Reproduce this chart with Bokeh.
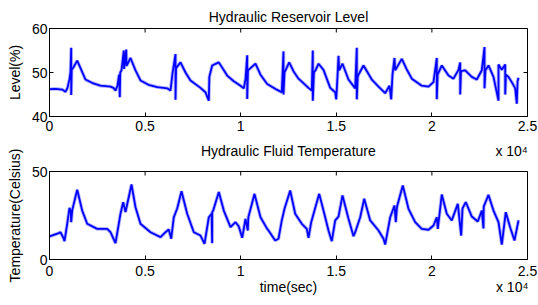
import math
from bokeh.plotting import figure
from bokeh.layouts import column
from bokeh.models import FixedTicker, LinearAxis, Range1d
from bokeh.embed import file_html
from bokeh.resources import INLINE

# ---- data (time in seconds) ----
level_t = [0, 314, 680, 837, 941, 1046, 1098, 1135, 1135, 1160, 1255, 1449, 1621, 1883, 2249, 2667,
           3190, 3347, 3452, 3556, 3640, 3677, 3700, 3766, 3886, 3900, 4011, 4030, 4236, 4498, 4759,
           5178, 5633, 6156, 6328, 6433, 6590, 6590, 6620, 6851, 7113, 7374, 7897, 8159, 8332, 8360,
           8509, 8855, 9294, 9639, 9989, 10162, 10251, 10340, 10340, 10380, 10512, 10774, 11035,
           11386, 11887, 12149, 12238, 12238, 12290, 12343, 12536, 12761, 13023, 13546, 13719,
           13771, 13771, 13830, 13912, 14069, 14330, 14681, 14942, 14995, 15062, 15115, 15150,
           15324, 15638, 15988, 16072, 16072, 16120, 16161, 16422, 16856, 17207, 17557, 17782,
           17871, 17939, 18044, 18080, 18148, 18425, 18671, 18948, 19471, 19822, 20083, 20256,
           20256, 20300, 20517, 20868, 21129, 21391, 21480, 21480, 21520, 21741, 22086, 22348,
           22610, 22751, 22751, 22800, 22960, 23221, 23483, 23483, 23656, 23834, 23834, 23870,
           24006, 24179, 24357, 24440, 24480, 24529]
level_v = [46.2, 46.3, 46.1, 45.6, 46.5, 48.5, 50.1, 55.6, 44.9, 50.6, 51.2, 52.7, 51.0, 48.4, 47.6, 47.0,
           46.8, 46.5, 45.9, 47.0, 49.5, 44.4, 50.0, 50.5, 55.0, 50.8, 55.2, 51.5, 53.3, 50.5, 48.2,
           47.2, 46.7, 46.4, 45.9, 49.8, 54.2, 43.8, 51.0, 52.3, 50.0, 48.2, 46.5, 45.5, 43.6, 49.0,
           51.6, 52.3, 49.3, 48.0, 47.0, 46.4, 48.5, 53.9, 44.0, 50.5, 51.0, 52.0, 49.5,
           47.4, 46.1, 45.5, 54.8, 45.0, 50.0, 50.5, 52.3, 50.3, 48.6, 46.5, 45.9,
           55.0, 43.6, 50.0, 50.5, 52.0, 50.6, 46.5, 45.5, 43.9, 49.0, 53.8, 50.5,
           52.0, 48.4, 46.4, 55.6, 43.9, 49.0, 49.5, 51.6, 48.4, 46.8, 45.3, 47.0,
           43.9, 49.5, 53.3, 50.5, 51.0, 53.1, 50.8, 48.6, 47.0, 46.8, 47.8, 53.3,
           43.9, 49.5, 51.6, 49.3, 48.6, 50.6, 52.3, 45.0, 50.3, 50.5, 49.0, 48.4,
           50.5, 55.8, 46.4, 50.5, 51.6, 49.0, 43.6, 51.8, 50.6, 51.8, 45.0, 49.5,
           49.0, 47.8, 46.4, 42.9, 48.0, 48.8]

temp_t = [0, 486, 575, 748, 785, 926, 1046, 1110, 1135, 1187, 1449, 1710, 1972, 2495, 3018, 3190,
          3452, 3713, 3855, 3975, 4064, 4289, 4498, 4759, 5282, 5805, 6067, 6239, 6365, 6501, 6679,
          6904, 7202, 7547, 7897, 8107, 8332, 8480, 8507, 8510, 8562, 8855, 9116, 9466, 9728, 9900,
          10078, 10251, 10371, 10400, 10722, 11035, 11386, 11454, 11804, 11977, 12149, 12291,
          12589, 12850, 13195, 13457, 13546, 13687, 14106, 14330, 14592, 14764, 14942, 15115,
          15324, 15638, 15899, 15988, 16250, 16459, 16773, 17207, 17468, 17557, 17819, 18044,
          18112, 18174, 18478, 18776, 19126, 19471, 19822, 20083, 20256, 20308, 20517, 20778,
          21040, 21354, 21532, 21600, 21773, 22086, 22400, 22610, 22698, 22710, 22960, 23221,
          23483, 23656, 23864, 24095, 24320, 24529]
temp_v = [13.1, 15.0, 15.5, 11.8, 10.4, 20.3, 29.4, 27.5, 21.2, 27.9, 39.6, 27.8, 20.3, 17.4, 17.4, 15.5,
          9.3, 26.0, 32.6, 26.9, 31.4, 42.6, 29.7, 20.3, 15.5, 12.7, 15.5, 17.1, 11.8, 24.0, 29.0,
          38.8, 26.0, 15.5, 13.6, 8.9, 24.0, 26.0, 9.3, 27.0, 27.8, 38.3, 27.8, 18.4, 21.2, 18.8,
          12.3, 23.1, 16.5, 24.0, 37.3, 24.0, 17.4, 16.5, 10.8, 11.8, 22.2, 28.8,
          39.2, 26.0, 20.3, 17.4, 12.3, 21.2, 37.3, 27.8, 16.5, 10.4, 22.2, 24.4,
          36.4, 23.1, 13.2, 15.5, 24.0, 34.5, 22.2, 16.5, 11.8, 8.5, 24.0, 30.7,
          21.2, 30.0, 42.0, 28.8, 21.2, 17.4, 16.9, 19.3, 24.0, 17.4, 36.9, 26.0,
          22.2, 31.6, 13.6, 29.0, 32.6, 24.4, 21.6, 27.8, 17.6, 30.0, 36.7, 27.8,
          21.2, 8.5, 26.9, 18.2, 10.8, 22.2]

x_ticks = [0, 5000, 10000, 15000, 20000, 25000]
x_tick_labels = ["0", "0.5", "1", "1.5", "2", "2.5"]
level_ticks = [40, 50, 60]
temp_ticks = [0, 50]
x_exponent = "x 10\u2074"

FONT = "Liberation Sans"
FS = "14px"
BLUE = "#0000FF"
X0, X1 = 0, 25000


def style_axis(ax):
    ax.major_tick_in = 4
    ax.major_tick_out = 0
    ax.minor_tick_line_color = None
    ax.major_tick_line_color = "black"
    ax.major_label_text_font = FONT
    ax.major_label_text_font_size = FS
    ax.major_label_text_color = "black"
    ax.axis_label_text_font = FONT
    ax.axis_label_text_font_size = FS
    ax.axis_label_text_font_style = "normal"
    ax.axis_label_text_color = "black"
    ax.axis_line_color = "black"


def text_row(labels_at, standoff):
    """An axis used only to place a row of texts (no line, no ticks)."""
    pos = list(labels_at.keys())
    ax = LinearAxis(ticker=FixedTicker(ticks=pos))
    style_axis(ax)
    ax.axis_line_color = None
    ax.major_tick_line_color = None
    ax.major_tick_in = 0
    ax.major_label_standoff = standoff
    ax.major_label_overrides = dict(labels_at)
    return ax


def make_fig(t, v, y0, y1, yticks, ylabel, height, top, bottom):
    p = figure(width=538, height=height, output_backend="svg", toolbar_location=None,
               x_range=Range1d(X0, X1), y_range=Range1d(y0, y1),
               min_border_left=49, min_border_right=11, min_border_top=top,
               min_border_bottom=bottom)
    p.grid.visible = False
    p.outline_line_color = "black"
    p.outline_line_alpha = 1
    p.background_fill_color = "white"
    p.border_fill_color = "white"
    p.line(t, v, line_color=BLUE, line_width=3.6, line_alpha=0.3)
    p.line(t, v, line_color=BLUE, line_width=1.8)
    # inward ticks on the top and right edges of the box
    p.scatter(x_ticks, [y1] * len(x_ticks), marker="dash", size=8, angle=math.pi / 2,
              line_color="black", line_width=1)
    p.scatter([X1] * len(yticks), yticks, marker="dash", size=8,
              line_color="black", line_width=1)
    p.xaxis.ticker = FixedTicker(ticks=x_ticks)
    p.xaxis.major_label_overrides = {k: s for k, s in zip(x_ticks, x_tick_labels)}
    p.yaxis.ticker = FixedTicker(ticks=yticks)
    p.xaxis.major_label_standoff = 4
    p.yaxis.major_label_standoff = 2
    p.yaxis.axis_label = ylabel
    p.yaxis.axis_label_standoff = 6
    style_axis(p.xaxis[0])
    style_axis(p.yaxis[0])
    return p


p1 = make_fig(level_t, level_v, 40, 60, level_ticks, "Level(%)", 137, 28, 21)
p1.title.text = "Hydraulic Reservoir Level"
p1.title.align = "center"
p1.title.text_font = FONT
p1.title.text_font_size = FS
p1.title.text_font_style = "normal"
p1.title.text_color = "black"
p1.title.standoff = 8

p2 = make_fig(temp_t, temp_v, 0, 50, temp_ticks, "Temperature(Celsius)", 168, 34, 46)
p2.xaxis.major_label_standoff = 6
# row above the lower box: its title and the exponent of the upper box's x axis
p2.add_layout(text_row({12500: "Hydraulic Fluid Temperature", 24170: x_exponent}, 13), "above")
# row below the lower box: x-axis label and its exponent
p2.add_layout(text_row({12500: "time(sec)", 24200: x_exponent}, 0), "below")

layout = column(p1, p2, spacing=0)
open("out.html", "w").write(file_html(layout, INLINE))
